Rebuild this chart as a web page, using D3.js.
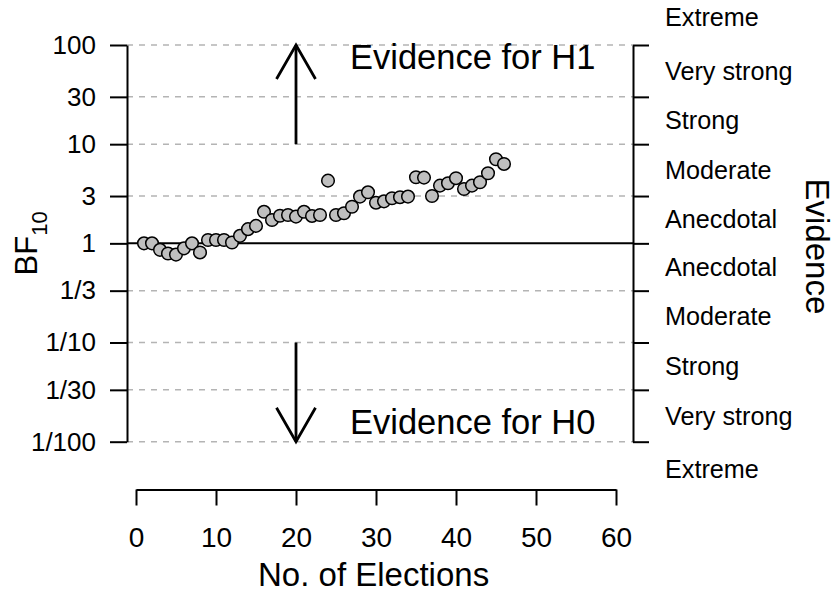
<!DOCTYPE html>
<html>
<head>
<meta charset="utf-8">
<script src="https://cdn.jsdelivr.net/npm/d3@7"></script>
<style>
  body { margin: 0; background: #fff; }
  svg text { font-family: "Liberation Sans", Arial, Helvetica, sans-serif; fill: #000; }
</style>
</head>
<body>
<div id="chart"></div>
<script>
// Bayes factor per election
const elections = d3.range(1, 47);
const bf10 = [
    1.00, 1.00, 0.86, 0.79, 0.77, 0.89, 1.00, 0.81, 1.08, 1.08,
    1.08, 1.02, 1.19, 1.39, 1.50, 2.08, 1.72, 1.90, 1.93, 1.86,
    2.08, 1.89, 1.93, 4.29, 1.93, 2.01, 2.34, 2.96, 3.27, 2.57,
    2.65, 2.85, 2.92, 2.96, 4.64, 4.60, 3.00, 3.82, 4.04, 4.54,
    3.53, 3.82, 4.13, 5.09, 7.05, 6.32
];

// y ticks
const yTickValues = [100, 30, 10, 3, 1, 1/3, 1/10, 1/30, 1/100];
const yTickLabels = ["100", "30", "10", "3", "1", "1/3", "1/10", "1/30", "1/100"];

// x ticks
const xTickValues = [0, 10, 20, 30, 40, 50, 60];

// evidence categories on the right, placed at log10 positions
const evidenceLabels = ["Extreme", "Very strong", "Strong", "Moderate", "Anecdotal",
    "Anecdotal", "Moderate", "Strong", "Very strong", "Extreme"];
const evidenceLogPos = [2.28, 1.739, 1.239, 0.739, 0.239,
    -0.239, -0.739, -1.239, -1.739, -2.28];

const width = 835;
const height = 594;

const svg = d3.select("#chart")
    .append("svg")
    .attr("width", width)
    .attr("height", height);

const x = d3.scaleLinear().domain([0, 60]).range([136, 616]);
const y = d3.scaleLog().domain([1/100, 100]).range([441.7, 45]);

const left = 127;
const right = 633;

// dashed grid lines
svg.append("g")
    .selectAll("line")
    .data(yTickValues.filter(d => d !== 1))
    .enter().append("line")
    .attr("x1", left)
    .attr("x2", right)
    .attr("y1", d => y(d))
    .attr("y2", d => y(d))
    .attr("stroke", "#b4b4b4")
    .attr("stroke-width", 1.5)
    .attr("stroke-dasharray", "6,6");

// solid line at BF = 1
svg.append("line")
    .attr("x1", left)
    .attr("x2", right)
    .attr("y1", y(1))
    .attr("y2", y(1))
    .attr("stroke", "#000")
    .attr("stroke-width", 2);

// left axis
const yAxis = svg.append("g")
    .attr("transform", `translate(${left},0)`)
    .call(d3.axisLeft(y)
        .tickValues(yTickValues)
        .tickFormat((d, i) => yTickLabels[i])
        .tickSize(17)
        .tickSizeOuter(0)
        .tickPadding(14));

// right axis
const yAxisRight = svg.append("g")
    .attr("transform", `translate(${right},0)`)
    .call(d3.axisRight(y)
        .tickValues(yTickValues)
        .tickFormat("")
        .tickSize(16)
        .tickSizeOuter(0));

// bottom axis
const xAxis = svg.append("g")
    .attr("transform", "translate(0,489.5)")
    .call(d3.axisBottom(x)
        .tickValues(xTickValues)
        .tickFormat(d3.format("d"))
        .tickSize(16)
        .tickSizeOuter(0)
        .tickPadding(22));

[yAxis, yAxisRight, xAxis].forEach(g => {
    g.selectAll("path, line").attr("stroke", "#000").attr("stroke-width", 2);
    g.selectAll("text").attr("fill", "#000");
});
yAxis.selectAll("text").style("font-size", "26px");
xAxis.selectAll("text").style("font-size", "28px");

// evidence labels
svg.append("g")
    .selectAll("text")
    .data(evidenceLabels)
    .enter().append("text")
    .attr("x", 665)
    .attr("y", (d, i) => y(Math.pow(10, evidenceLogPos[i])))
    .attr("dy", "0.35em")
    .style("font-size", "25.2px")
    .text(d => d);

// arrows
function arrow(from, to) {
    const x0 = x(20), y0 = y(from), y1 = y(to);
    const dir = y1 < y0 ? 1 : -1;
    const g = svg.append("g")
        .attr("stroke", "#000")
        .attr("stroke-width", 2.8)
        .attr("fill", "none");
    g.append("line").attr("x1", x0).attr("x2", x0).attr("y1", y0).attr("y2", y1);
    g.append("path")
        .attr("d", `M${x0 - 19.5},${y1 + dir * 34}L${x0},${y1}L${x0 + 19.5},${y1 + dir * 34}`);
}
arrow(10, 100);
arrow(1/10, 1/100);

svg.append("text")
    .attr("x", 350)
    .attr("y", y(100) + 24)
    .style("font-size", "34.5px")
    .text("Evidence for H1");

svg.append("text")
    .attr("x", 350)
    .attr("y", y(1/100) - 8)
    .style("font-size", "34.5px")
    .text("Evidence for H0");

// points
svg.append("g")
    .selectAll("circle")
    .data(bf10)
    .enter().append("circle")
    .attr("cx", (d, i) => x(elections[i]))
    .attr("cy", d => y(d))
    .attr("r", 6.3)
    .attr("fill", "#bfbfbf")
    .attr("stroke", "#000")
    .attr("stroke-width", 1.5);

// axis titles
const bfLabel = svg.append("text")
    .attr("transform", `translate(37,${y(1)}) rotate(-90)`)
    .attr("text-anchor", "middle")
    .style("font-size", "31px");
bfLabel.append("tspan").text("BF");
bfLabel.append("tspan")
    .attr("dy", 10)
    .style("font-size", "22px")
    .text("10");

svg.append("text")
    .attr("transform", `translate(806,${y(1) + 3}) rotate(90)`)
    .attr("text-anchor", "middle")
    .style("font-size", "33px")
    .text("Evidence");

svg.append("text")
    .attr("x", x(29.7))
    .attr("y", 586)
    .attr("text-anchor", "middle")
    .style("font-size", "33px")
    .text("No. of Elections");
</script>
</body>
</html>
